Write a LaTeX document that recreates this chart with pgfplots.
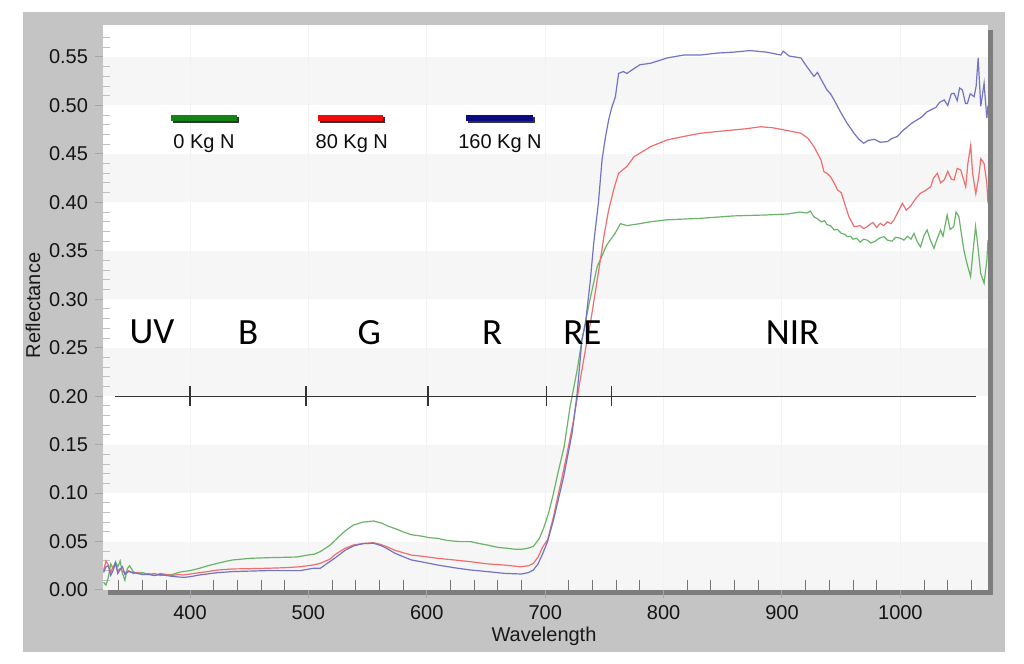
\documentclass[border=0pt]{standalone}
\usepackage{fontspec}
\setmainfont{Liberation Sans}
\newfontfamily\calibri{Carlito}
\usepackage{pgfplots}
\pgfplotsset{compat=1.18}
\definecolor{cgreen}{RGB}{105,180,105}
\definecolor{cred}{RGB}{240,110,110}
\definecolor{cblue}{RGB}{115,115,195}
\definecolor{lgreen}{RGB}{20,130,20}
\definecolor{lred}{RGB}{240,10,10}
\definecolor{lblue}{RGB}{10,10,130}
\definecolor{frame}{RGB}{196,196,196}
\definecolor{shadow}{RGB}{125,125,125}
\definecolor{band}{RGB}{246,246,246}

\pgfplotstableread{
x y
327 0.008
329 0.005
331 0.013
333 0.027
335 0.022
337 0.029
339 0.024
341 0.030
343 0.017
345 0.010
347 0.022
349 0.025
352 0.019
355 0.017
360 0.018
365 0.016
370 0.017
375 0.015
380 0.0155
385 0.016
390 0.018
394 0.019
400 0.020
408 0.0224
415 0.025
423 0.0275
430 0.0295
436 0.031
445 0.032
451 0.0327
465 0.0333
479 0.0337
490 0.034
499 0.036
505 0.037
510 0.0396
518 0.046
524 0.053
531 0.061
538 0.067
546 0.070
555 0.0712
562 0.069
567 0.066
574 0.063
580 0.060
587 0.057
595 0.0557
602 0.054
609 0.0533
618 0.051
628 0.0499
637 0.0499
644 0.048
651 0.0464
660 0.044
668 0.043
675 0.042
680 0.042
685 0.043
690 0.045
695 0.053
699 0.065
703 0.080
707 0.0998
711 0.122
716 0.148
721 0.189
727 0.227
731 0.258
737 0.295
744 0.334
752 0.356
759 0.368
763.5 0.378
769 0.376
780 0.378
789 0.380
803 0.382
831 0.3835
859 0.386
887 0.387
905 0.388
915 0.390
921 0.389
924 0.391
927 0.385
930 0.383
933 0.380
936 0.381
938 0.377
941 0.376
944 0.3715
947 0.372
950 0.368
953 0.367
955 0.3646
958 0.365
960 0.362
963 0.363
966 0.359
969 0.362
972 0.361
975 0.358
979 0.360
982 0.363
986 0.3646
989 0.361
993 0.360
996 0.364
1000 0.363
1003 0.361
1006 0.365
1009 0.362
1011.5 0.368
1014 0.360
1017 0.354
1020 0.366
1022.6 0.3715
1025 0.362
1028.3 0.3526
1031 0.362
1033.9 0.3715
1036 0.365
1039.5 0.387
1042 0.372
1045.1 0.375
1047 0.390
1049.4 0.3852
1051 0.372
1053.6 0.3509
1056 0.338
1059.3 0.3233
1061 0.345
1063.5 0.375
1065 0.360
1067.8 0.3268
1070.7 0.3165
1073 0.340
1074 0.361
}\greendata

\pgfplotstableread{
x y
327 0.020
329 0.030
331 0.026
333 0.018
335 0.024
337 0.027
339 0.020
341 0.022
343 0.019
345 0.018
348 0.020
352 0.017
356 0.018
360 0.016
365 0.017
370 0.015
375 0.017
380 0.016
385 0.015
390 0.016
394 0.0155
400 0.0165
408 0.0179
415 0.019
423 0.0206
436 0.0217
450 0.022
465 0.0224
480 0.023
493 0.024
504 0.0258
510 0.0275
518 0.0317
524 0.0378
531 0.043
538 0.0464
546 0.048
555 0.0488
561 0.047
566 0.0447
573 0.041
580 0.0385
587 0.036
595 0.035
609 0.0327
623 0.031
637 0.0292
651 0.027
665 0.0258
679 0.024
686 0.025
690 0.0275
694 0.034
698 0.0447
702 0.0516
707 0.0756
710 0.093
714 0.115
718.5 0.141
724 0.1754
730 0.22
735.4 0.258
738 0.274
742 0.305
746.6 0.3406
750 0.368
753.6 0.392
758 0.414
762 0.430
769 0.437
775 0.447
789 0.4575
803 0.4644
817 0.468
831 0.4713
845 0.473
859 0.4747
870 0.476
882 0.478
892 0.477
902 0.4747
916 0.4713
922 0.466
927 0.4575
933 0.4437
935.4 0.4317
938 0.430
941 0.4265
944 0.420
947 0.4128
950 0.410
952 0.4025
956.5 0.3852
961 0.3749
966 0.376
969 0.373
972 0.3749
975 0.378
977 0.379
980 0.374
983 0.3784
986 0.376
989 0.380
992 0.378
994.5 0.3818
998 0.390
1001.6 0.399
1005 0.392
1008.6 0.396
1013 0.404
1017 0.4094
1021 0.412
1025.6 0.4162
1028 0.425
1031.2 0.430
1034 0.420
1037 0.4231
1040 0.432
1043 0.424
1045.3 0.4231
1048 0.435
1051 0.4334
1053 0.425
1055.2 0.416
1057 0.440
1059.4 0.459
1061 0.430
1063.7 0.409
1066 0.425
1068 0.445
1070.7 0.440
1073 0.420
1074 0.399
}\reddata

\pgfplotstableread{
x y
327 0.018
329 0.024
331 0.025
333 0.015
335 0.020
337 0.028
339 0.017
341 0.021
343 0.024
345 0.016
348 0.019
352 0.018
356 0.017
360 0.016
365 0.016
370 0.015
375 0.016
380 0.015
385 0.014
390 0.0135
395 0.013
400 0.0137
408 0.0155
423 0.0179
436 0.019
465 0.020
493 0.020
504 0.0224
510 0.0224
518 0.0292
524 0.0344
531 0.041
538 0.0454
546 0.0478
555 0.0482
561 0.046
566 0.043
573 0.038
580 0.0344
587 0.031
595 0.0292
609 0.0258
623 0.023
637 0.0206
651 0.019
665 0.0172
680 0.0165
686 0.018
690 0.0206
694 0.027
698 0.0378
702 0.050
707 0.0722
711 0.093
715.6 0.117
722.7 0.1617
727 0.203
731 0.258
734 0.275
738 0.318
741 0.358
745 0.400
748 0.4437
751 0.468
753.6 0.485
756 0.497
759.3 0.509
762 0.533
766 0.535
769 0.533
775 0.538
780 0.542
789 0.5435
803 0.549
817 0.552
831 0.552
845 0.554
859 0.555
873 0.5566
887 0.555
895 0.553
899 0.552
901 0.556
906 0.551
916 0.549
921 0.540
927 0.530
930 0.534
933 0.527
938 0.516
941 0.512
944 0.5057
950 0.492
955 0.4816
961 0.471
965 0.465
969 0.461
973 0.464
978 0.465
983 0.462
989 0.4627
993 0.466
997.5 0.468
1002 0.474
1006 0.478
1010 0.482
1014 0.485
1018 0.488
1022 0.493
1025.6 0.4954
1030 0.498
1033 0.503
1037 0.5057
1040 0.500
1043 0.512
1045.3 0.5126
1048 0.505
1050 0.518
1052.4 0.516
1055 0.502
1056.6 0.502
1059 0.512
1062.3 0.509
1064 0.520
1065.7 0.549
1067.9 0.499
1070.7 0.523
1073 0.487
1074 0.500
}\bluedata

\begin{document}
\begin{tikzpicture}
% canvas and frame
\fill[white] (0,0) rectangle (512pt,332pt);
\fill[frame] (11.5pt,6pt) rectangle (502.5pt,326pt);
\fill[shadow] (54pt,34.5pt) rectangle (496.5pt,317pt);
\fill[white] (51.5pt,37pt) rectangle (494pt,319.5pt);
% bands
\begin{scope}[shift={(51.5pt,37pt)}, x=1pt, y=484.56pt]
\foreach \bnd in {0,0.10,0.20,0.30,0.40,0.50}{
  \fill[band] (0,\bnd) rectangle (442.5,\bnd+0.05);
}
\end{scope}

\begin{axis}[
  at={(51.5pt,37pt)}, anchor=south west,
  scale only axis, width=442.5pt, height=282.5pt,
  xmin=326.5, xmax=1074, ymin=0, ymax=0.583,
  axis line style={draw=none},
  xtick={400,500,600,700,800,900,1000},
  ytick={0,0.05,0.10,0.15,0.20,0.25,0.30,0.35,0.40,0.45,0.50,0.55},
  xtick pos=left, ytick pos=left,
  tick align=outside, major tick length=4pt,
  major tick style={color=black!35, line width=0.5pt},
  xmajorgrids, major x grid style={color=black!5, line width=0.5pt},
  extra x ticks={340,360,380,420,440,460,480,520,540,560,580,620,640,660,680,720,740,760,780,820,840,860,880,920,940,960,980,1020,1040,1060},
  extra x tick labels={},
  extra x tick style={tick align=inside, major tick length=5pt, grid=none,
     major tick style={color=black!55, line width=0.5pt}},
  extra y ticks={0.01,0.02,0.03,0.04,0.06,0.07,0.08,0.09,0.11,0.12,0.13,0.14,0.16,0.17,0.18,0.19,0.21,0.22,0.23,0.24,0.26,0.27,0.28,0.29,0.31,0.32,0.33,0.34,0.36,0.37,0.38,0.39,0.41,0.42,0.43,0.44,0.46,0.47,0.48,0.49,0.51,0.52,0.53,0.54,0.56,0.57},
  extra y tick labels={},
  extra y tick style={tick align=inside, major tick length=3.5pt, grid=none,
     major tick style={color=black!25, line width=0.5pt}},
  tick label style={font=\fontsize{10}{12}\selectfont, color=black!92},
  /pgf/number format/assume math mode=true,
  yticklabel style={/pgf/number format/.cd, fixed, fixed zerofill, precision=2},
  xticklabel style={/pgf/number format/.cd, set thousands separator={}},
]
\addplot[cgreen, line width=0.6pt] table[x=x,y=y] {\greendata};
\addplot[cred, line width=0.6pt] table[x=x,y=y] {\reddata};
\addplot[cblue, line width=0.6pt] table[x=x,y=y] {\bluedata};

% spectral region annotation
\draw[black!80, line width=0.6pt] (axis cs:336.6,0.2) -- (axis cs:1063.6,0.2);
\draw[black!80, line width=0.6pt] (axis cs:400,0.1895) -- (axis cs:400,0.2105);
\draw[black!80, line width=0.6pt] (axis cs:498,0.1895) -- (axis cs:498,0.2105);
\draw[black!80, line width=0.6pt] (axis cs:601,0.1895) -- (axis cs:601,0.2105);
\draw[black!80, line width=0.6pt] (axis cs:701,0.1895) -- (axis cs:701,0.2105);
\draw[black!80, line width=0.6pt] (axis cs:756,0.1895) -- (axis cs:756,0.2105);
\node[font=\calibri\fontsize{18.5}{20}\selectfont] at (axis cs:367.9,0.266) {UV};
\node[font=\calibri\fontsize{18.5}{20}\selectfont] at (axis cs:449.1,0.266) {B};
\node[font=\calibri\fontsize{18.5}{20}\selectfont] at (axis cs:551.4,0.266) {G};
\node[font=\calibri\fontsize{18.5}{20}\selectfont] at (axis cs:655.3,0.266) {R};
\node[font=\calibri\fontsize{18.5}{20}\selectfont] at (axis cs:731.4,0.266) {RE};
\node[font=\calibri\fontsize{18.5}{20}\selectfont] at (axis cs:909,0.266) {NIR};
\end{axis}

% axis labels
\node[font=\fontsize{10}{12}\selectfont, rotate=90, text=black!90] at (16.5pt,179.2pt) {Reflectance};
\node[font=\fontsize{10}{12}\selectfont, text=black!90] at (272pt,14pt) {Wavelength};

% legend
\foreach \xa/\xb/\xc/\col/\lab in {85.5/118.5/102/lgreen/0 Kg N, 159/191.5/175.9/lred/80 Kg N, 233/266.5/250/lblue/160 Kg N}{
  \fill[black!80] (\xa pt+0.8pt,270.6pt) rectangle (\xb pt+0.8pt,273.6pt);
  \fill[\col] (\xa pt,271.5pt) rectangle (\xb pt,274.5pt);
  \node[font=\fontsize{10}{12}\selectfont, text=black!95, anchor=base] at (\xc pt,257.5pt) {\lab};
}
\pgfresetboundingbox
\useasboundingbox (0,0) rectangle (512pt,332pt);
\end{tikzpicture}
\end{document}
